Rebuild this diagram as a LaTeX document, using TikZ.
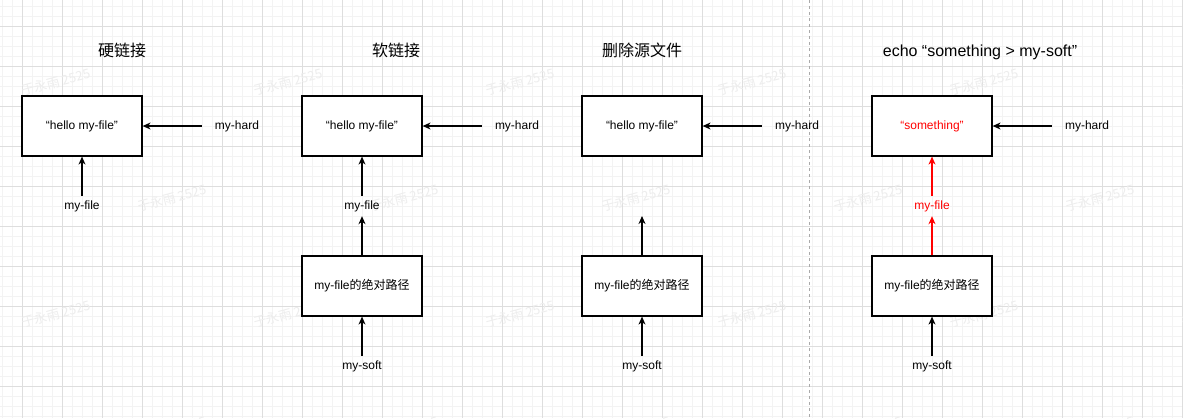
\documentclass[tikz,border=0pt]{standalone}
\usepackage{fontspec}
\setmainfont{Liberation Sans}
\newfontfamily\cjk{Noto Sans CJK SC}
\usetikzlibrary{arrows.meta}
\definecolor{gridminor}{RGB}{243,243,243}
\definecolor{gridmajor}{RGB}{222,222,222}
\definecolor{wmark}{RGB}{237,237,237}
\definecolor{drawred}{RGB}{255,0,0}
\definecolor{sepgray}{RGB}{170,170,170}
\begin{document}
\begin{tikzpicture}[x=1pt,y=-1pt,
  box/.style={draw=black, fill=white, line width=1.2pt, minimum width=120pt, minimum height=60pt, inner sep=0pt, font=\fontsize{12}{14}\selectfont},
  lbl/.style={inner xsep=13pt, inner ysep=0pt, minimum height=20pt, font=\fontsize{12}{14}\selectfont},
  ttl/.style={anchor=base, inner sep=0pt, font=\fontsize{16}{19}\selectfont},
  arr/.style={draw=black, line width=1.2pt, -{Stealth[length=8pt,width=7pt,inset=2.5pt]}},
  redarr/.style={arr, draw=drawred},
  wm/.style={rotate=15, text=wmark, font=\cjk\fontsize{13}{15}\selectfont, inner sep=0pt},
  gminor/.style={draw=gridminor, line width=0.8pt},
  gmajor/.style={draw=gridmajor, line width=1pt}
]
\useasboundingbox (0,0) rectangle (1183,418);
\clip (0,0) rectangle (1183,418);
\fill[white] (0,0) rectangle (1183,418);
% grid
\foreach \k in {0,...,118} \draw[gminor] ({2.3+10*\k},0) -- ({2.3+10*\k},418);
\foreach \k in {0,...,41} \draw[gminor] (0,{6+10*\k}) -- (1183,{6+10*\k});
\foreach \k in {0,...,29} \draw[gmajor] ({22.3+40*\k},0) -- ({22.3+40*\k},418);
\foreach \k in {0,...,9} \draw[gmajor] (0,{26+40*\k}) -- (1183,{26+40*\k});
% separator
\coordinate (sepTop) at (809.5,0);
\coordinate (sepBot) at (809.5,418);
\draw[sepgray, line width=1pt, dash pattern=on 3pt off 3pt] (sepTop) -- (sepBot);

% watermarks (faint, behind the labels)
\foreach \x in {56,288,520,752,984,1216} {
  \node[wm] at (\x,82) {于永雨 2525};
  \node[wm] at (\x,314) {于永雨 2525};
}
\foreach \x in {-60,172,404,636,868,1100} {
  \node[wm] at (\x,198) {于永雨 2525};
  \node[wm] at (\x,430) {于永雨 2525};
}

% panel 1
\node[ttl] (t1) at (122,56) {\cjk 硬链接};
\node[box] (b1) at (82,126) {“hello my-file”};
\node[lbl] (h1) at (237,126) {my-hard};
\node[lbl] (f1) at (82,206) {my-file};
\draw[arr] (h1) -- (b1);
\draw[arr] (f1) -- (b1);

% panel 2
\node[ttl] (t2) at (396,56) {\cjk 软链接};
\node[box] (b2) at (362,126) {“hello my-file”};
\node[lbl] (h2) at (517,126) {my-hard};
\node[lbl] (f2) at (362,206) {my-file};
\node[box] (p2) at (362,286) {my-file{\cjk 的绝对路径}};
\node[lbl] (s2) at (362,366) {my-soft};
\draw[arr] (h2) -- (b2);
\draw[arr] (f2) -- (b2);
\draw[arr] (p2) -- (f2);
\draw[arr] (s2) -- (p2);

% panel 3
\node[ttl] (t3) at (642,56) {\cjk 删除源文件};
\node[box] (b3) at (642,126) {“hello my-file”};
\node[lbl] (h3) at (797,126) {my-hard};
\coordinate (f3) at (642,216);
\node[box] (p3) at (642,286) {my-file{\cjk 的绝对路径}};
\node[lbl] (s3) at (642,366) {my-soft};
\draw[arr] (h3) -- (b3);
\draw[arr] (p3) -- (f3);
\draw[arr] (s3) -- (p3);

% panel 4
\node[ttl] (t4) at (980,56) {echo “something > my-soft”};
\node[box, text=drawred] (b4) at (932,126) {“something”};
\node[lbl] (h4) at (1087,126) {my-hard};
\node[lbl, text=drawred] (f4) at (932,206) {my-file};
\node[box] (p4) at (932,286) {my-file{\cjk 的绝对路径}};
\node[lbl] (s4) at (932,366) {my-soft};
\draw[arr] (h4) -- (b4);
\draw[redarr] (f4) -- (b4);
\draw[redarr] (p4) -- (f4);
\draw[arr] (s4) -- (p4);
\end{tikzpicture}
\end{document}
